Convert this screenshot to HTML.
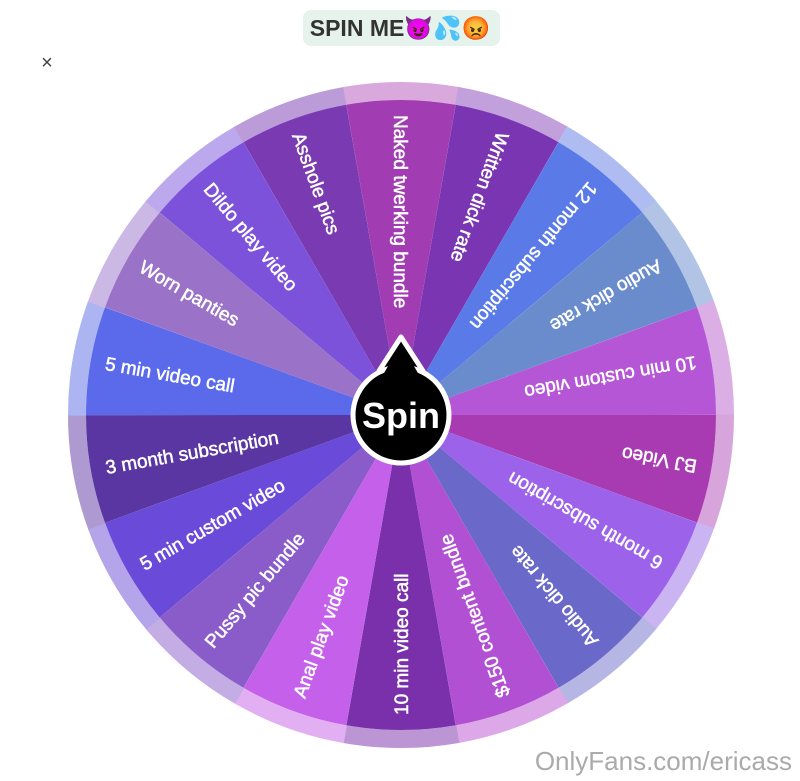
<!DOCTYPE html>
<html><head><meta charset="utf-8"><style>
html,body{margin:0;padding:0;background:#fff;width:800px;height:781px;overflow:hidden}
svg{display:block}
</style></head><body>
<svg width="800" height="781" viewBox="0 0 800 781" xmlns="http://www.w3.org/2000/svg" style="position:absolute;left:0;top:0">
<rect x="303" y="10" width="197" height="36" rx="8" fill="#e6f3ec"/>
<text x="400" y="36" text-anchor="middle" font-family="Liberation Sans, sans-serif" font-weight="bold" font-size="23" fill="#333">SPIN ME😈💦😡</text>
<text x="47" y="69" text-anchor="middle" font-family="Liberation Sans, sans-serif" font-size="20" fill="#444">×</text>
<g transform="translate(401,415)" font-family="Liberation Sans, DejaVu Sans, sans-serif" font-size="19" fill="#fff">
<g fill="none">
<circle r="324" stroke-width="18" pathLength="360" stroke-dasharray="20 340" transform="rotate(-100)" stroke="#d9a8dc"/>
<circle r="324" stroke-width="18" pathLength="360" stroke-dasharray="20 340" transform="rotate(-80)" stroke="#c2a0dc"/>
<circle r="324" stroke-width="18" pathLength="360" stroke-dasharray="20 340" transform="rotate(-60)" stroke="#aebcf2"/>
<circle r="324" stroke-width="18" pathLength="360" stroke-dasharray="20 340" transform="rotate(-40)" stroke="#b2c4e6"/>
<circle r="324" stroke-width="18" pathLength="360" stroke-dasharray="20 340" transform="rotate(-20)" stroke="#dcaee6"/>
<circle r="324" stroke-width="18" pathLength="360" stroke-dasharray="20 340" transform="rotate(0)" stroke="#d8a4dc"/>
<circle r="324" stroke-width="18" pathLength="360" stroke-dasharray="20 340" transform="rotate(20)" stroke="#cbb4f2"/>
<circle r="324" stroke-width="18" pathLength="360" stroke-dasharray="20 340" transform="rotate(40)" stroke="#b6b6e4"/>
<circle r="324" stroke-width="18" pathLength="360" stroke-dasharray="20 340" transform="rotate(60)" stroke="#dca8e8"/>
<circle r="324" stroke-width="18" pathLength="360" stroke-dasharray="20 340" transform="rotate(80)" stroke="#bc96d4"/>
<circle r="324" stroke-width="18" pathLength="360" stroke-dasharray="20 340" transform="rotate(100)" stroke="#e2b0f2"/>
<circle r="324" stroke-width="18" pathLength="360" stroke-dasharray="20 340" transform="rotate(120)" stroke="#c4ace4"/>
<circle r="324" stroke-width="18" pathLength="360" stroke-dasharray="20 340" transform="rotate(140)" stroke="#b4a4ea"/>
<circle r="324" stroke-width="18" pathLength="360" stroke-dasharray="20 340" transform="rotate(160)" stroke="#ae9ad0"/>
<circle r="324" stroke-width="18" pathLength="360" stroke-dasharray="20 340" transform="rotate(180)" stroke="#acb4f2"/>
<circle r="324" stroke-width="18" pathLength="360" stroke-dasharray="20 340" transform="rotate(200)" stroke="#ccb8e4"/>
<circle r="324" stroke-width="18" pathLength="360" stroke-dasharray="20 340" transform="rotate(220)" stroke="#bca8ec"/>
<circle r="324" stroke-width="18" pathLength="360" stroke-dasharray="20 340" transform="rotate(240)" stroke="#bc9cd8"/>

<circle r="157.5" stroke-width="315" pathLength="360" stroke-dasharray="20 340" transform="rotate(-100)" stroke="#a23cb2"/>
<circle r="157.5" stroke-width="315" pathLength="360" stroke-dasharray="20 340" transform="rotate(-80)" stroke="#7a36b2"/>
<circle r="157.5" stroke-width="315" pathLength="360" stroke-dasharray="20 340" transform="rotate(-60)" stroke="#5a7ae8"/>
<circle r="157.5" stroke-width="315" pathLength="360" stroke-dasharray="20 340" transform="rotate(-40)" stroke="#6a8ccc"/>
<circle r="157.5" stroke-width="315" pathLength="360" stroke-dasharray="20 340" transform="rotate(-20)" stroke="#b456d6"/>
<circle r="157.5" stroke-width="315" pathLength="360" stroke-dasharray="20 340" transform="rotate(0)" stroke="#a83ab2"/>
<circle r="157.5" stroke-width="315" pathLength="360" stroke-dasharray="20 340" transform="rotate(20)" stroke="#9c62ea"/>
<circle r="157.5" stroke-width="315" pathLength="360" stroke-dasharray="20 340" transform="rotate(40)" stroke="#6a68c8"/>
<circle r="157.5" stroke-width="315" pathLength="360" stroke-dasharray="20 340" transform="rotate(60)" stroke="#b250d4"/>
<circle r="157.5" stroke-width="315" pathLength="360" stroke-dasharray="20 340" transform="rotate(80)" stroke="#7a30aa"/>
<circle r="157.5" stroke-width="315" pathLength="360" stroke-dasharray="20 340" transform="rotate(100)" stroke="#c460ea"/>
<circle r="157.5" stroke-width="315" pathLength="360" stroke-dasharray="20 340" transform="rotate(120)" stroke="#8a5cca"/>
<circle r="157.5" stroke-width="315" pathLength="360" stroke-dasharray="20 340" transform="rotate(140)" stroke="#6a4ad8"/>
<circle r="157.5" stroke-width="315" pathLength="360" stroke-dasharray="20 340" transform="rotate(160)" stroke="#5a36a2"/>
<circle r="157.5" stroke-width="315" pathLength="360" stroke-dasharray="20 340" transform="rotate(180)" stroke="#5a6aea"/>
<circle r="157.5" stroke-width="315" pathLength="360" stroke-dasharray="20 340" transform="rotate(200)" stroke="#9a72c8"/>
<circle r="157.5" stroke-width="315" pathLength="360" stroke-dasharray="20 340" transform="rotate(220)" stroke="#7c52da"/>
<circle r="157.5" stroke-width="315" pathLength="360" stroke-dasharray="20 340" transform="rotate(240)" stroke="#7a3ab2"/>
</g>
<g stroke="#fff" stroke-width="0.5">
<text transform="rotate(90)" x="-300" y="7">Naked twerking bundle</text>
<text transform="rotate(110)" x="-300" y="7">Written dick rate</text>
<text transform="rotate(130)" x="-300" y="7">12 month subscription</text>
<text transform="rotate(150)" x="-300" y="7">Audio dick rate</text>
<text transform="rotate(170)" x="-300" y="7">10 min custom video</text>
<text transform="rotate(190)" x="-300" y="7">BJ Video</text>
<text transform="rotate(210)" x="-300" y="7">6 month subscription</text>
<text transform="rotate(230)" x="-300" y="7">Audio dick rate</text>
<text transform="rotate(250)" x="-300" y="7">$150 content bundle</text>
<text transform="rotate(270)" x="-300" y="7">10 min video call</text>
<text transform="rotate(290)" x="-300" y="7">Anal play video</text>
<text transform="rotate(310)" x="-300" y="7">Pussy pic bundle</text>
<text transform="rotate(330)" x="-300" y="7">5 min custom video</text>
<text transform="rotate(350)" x="-300" y="7">3 month subscription</text>
<text transform="rotate(10)" x="-300" y="7">5 min video call</text>
<text transform="rotate(30)" x="-300" y="7">Worn panties</text>
<text transform="rotate(50)" x="-300" y="7">Dildo play video</text>
<text transform="rotate(70)" x="-300" y="7">Asshole pics</text>
</g>
<path d="M-22,-44 L0,-78 L22,-44 Z" fill="#000" stroke="#fff" stroke-width="5" stroke-linejoin="round"/>
<circle r="48" fill="#000" stroke="#fff" stroke-width="5"/>
<path d="M-18,-40 L0,-72 L18,-40 Z" fill="#000"/>
<text x="0" y="13" text-anchor="middle" font-size="36" font-weight="bold">Spin</text>
</g>
<text x="792" y="770" text-anchor="end" font-family="Liberation Sans, sans-serif" font-size="26" fill="#aaaaaa">OnlyFans.com/ericass</text>
</svg>
</body></html>
